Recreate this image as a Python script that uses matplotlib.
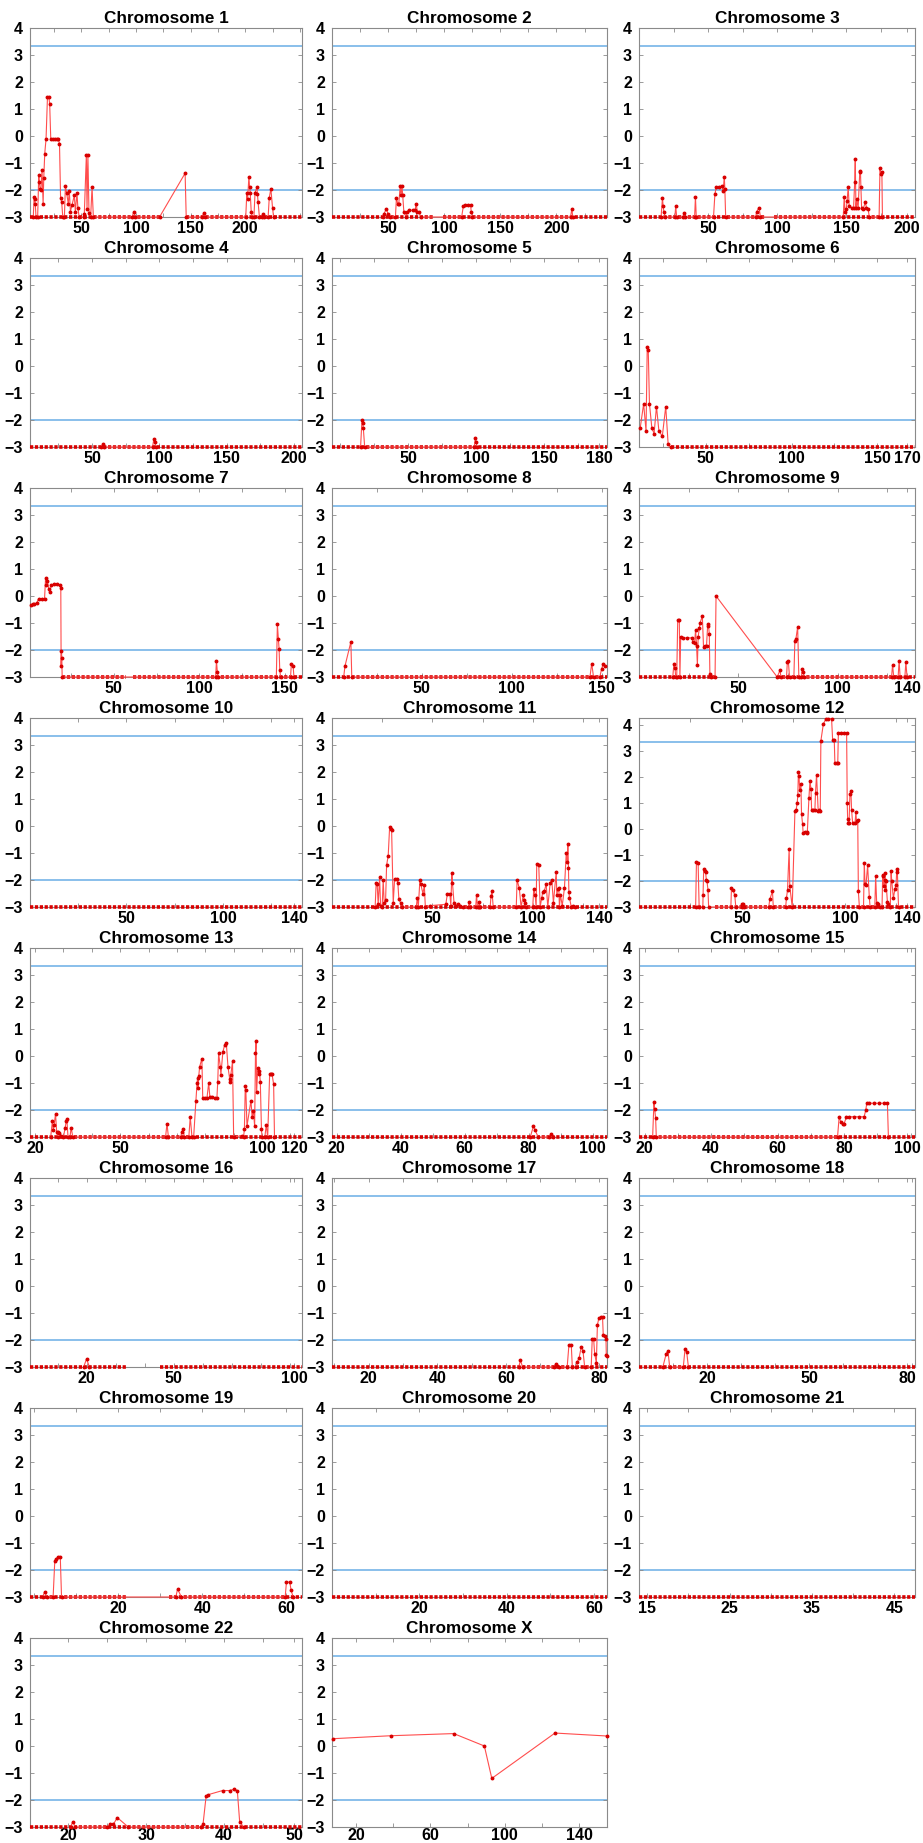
import matplotlib.pyplot as plt

plt.rcParams['font.family'] = ['Liberation Sans', 'DejaVu Sans']
plt.rcParams['font.weight'] = 'bold'

## data: (position, score) points and the -3 floor stretches
names = ['1', '2', '3', '4', '5', '6', '7', '8', '9', '10', '11', '12',
         '13', '14', '15', '16', '17', '18', '19', '20', '21', '22', 'X']

floor_level = -3
thresholds = [3.35, -2.0]

chr1_pts = [(6, -3), (6.8, -2.25), (7.2, -2.35), (7.8, -2.5), (8.5, -3), (10, -3), (11, -1.45), (11.5, -1.7),
            (12.2, -1.95), (13, -2.0), (14, -1.25), (15, -2.5), (15.6, -1.55), (16.5, -0.65), (17.7, -0.1),
            (19, 1.45), (20.2, 1.45), (21, 1.2), (22, -0.1), (24, -0.1), (26, -0.1), (28, -0.1), (29, -0.1),
            (30, -0.3), (31, -2.3), (32, -2.45), (33, -3), (34.5, -3), (35.4, -1.85), (36.5, -2.1), (38, -2.5),
            (39, -2.05), (40, -2.8), (41.5, -2.55), (43.6, -2.2), (44.5, -2.8), (46, -2.1), (46.8, -2.65),
            (48, -3), (52, -3), (52.7, -2.9), (54.6, -0.7), (55.2, -2.7), (56, -0.7), (57, -2.85), (58.5, -3),
            (59.8, -1.9), (61, -3), (96.5, -3), (98, -2.8), (99.5, -3), (121.6, -3), (145, -1.38), (146, -3),
            (160.5, -3), (162, -2.85), (163.5, -3), (200.5, -3), (201.5, -2.1), (202.2, -2.35), (203.4, -1.5),
            (204, -1.9), (204.6, -2.1), (205.5, -2.8), (206.5, -3), (208, -3), (209, -2.1), (210.7, -1.9),
            (211.2, -2.15), (211.8, -2.45), (213, -3), (215, -3), (216, -2.9), (217, -3), (221, -3),
            (222, -2.3), (223.5, -1.95), (225, -2.65), (226, -3)]
chr1_floor = [(3, 121.6), (146, 252)]

chr2_pts = [(45, -3), (46, -2.9), (48.5, -2.7), (50, -2.9), (52, -3), (56.5, -3), (57.4, -2.3), (58.5, -2.5),
            (59.5, -2.5), (60.8, -1.85), (61.5, -2.2), (62.3, -1.85), (63, -2.2), (64, -2.8), (66, -3),
            (67, -2.8), (69, -2.75), (72, -2.75), (74, -2.75), (75, -2.5), (76, -2.8), (77.5, -2.8), (79, -3),
            (115.5, -3), (117, -2.6), (118.5, -2.55), (121, -2.55), (123.5, -2.55), (124, -2.8), (125, -3),
            (212.5, -3), (213.7, -2.7), (214.5, -3)]
chr2_floor = [(0, 90), (99, 245)]

chr3_pts = [(16, -3), (17, -2.3), (17.5, -2.6), (18, -2.8), (19, -3), (26, -3), (26.6, -2.6), (27.3, -3),
            (32, -3), (32.4, -2.85), (33, -3), (40.3, -3), (40.9, -2.25), (41.5, -3), (54, -3), (55, -2.15),
            (56, -1.9), (58, -1.9), (60, -1.85), (61, -2.05), (61.8, -1.5), (62.2, -1.95), (62.8, -3),
            (84.5, -3), (85.3, -2.8), (87, -2.65), (88, -3), (148, -3), (148.7, -2.25), (149.3, -2.8),
            (150.2, -2.7), (150.8, -2.4), (151.6, -1.9), (152.3, -2.6), (154, -2.65), (155.5, -2.65),
            (156.3, -1.7), (156.7, -0.85), (157.2, -2.65), (157.7, -2.35), (158.8, -2.65), (160, -1.3),
            (160.5, -1.35), (160.8, -1.9), (161.3, -2.65), (162.5, -2.7), (164, -2.45), (164.8, -2.65),
            (166, -2.7), (166.9, -3), (174, -3), (174.6, -1.2), (175.3, -1.4), (176, -1.35), (176.4, -3)]
chr3_floor = [(0, 91), (98, 200)]

chr4_pts = [(57, -3), (58, -2.9), (59, -3), (95, -3), (96, -2.7), (96.5, -2.8), (97.5, -3)]
chr4_floor = [(4, 206)]

chr5_pts = [(15, -3), (16, -2.0), (16.5, -2.1), (17, -2.3), (18, -3), (98.5, -3), (99.3, -2.65), (99.8, -2.8),
            (100.5, -3)]
chr5_floor = [(-6, 196)]

chr6_pts = [(11.7, -2.3), (13.7, -1.4), (15.1, -2.4), (15.8, 0.7), (16.4, 0.6), (17.1, -1.4), (18.5, -2.3),
            (19.8, -2.5), (21.2, -1.5), (22.6, -2.4), (24.6, -2.6), (26.6, -1.5), (28, -2.9), (29.4, -3)]
chr6_floor = [(29.4, 172)]

chr7_pts = [(1.5, -0.35), (2.5, -0.3), (3.5, -0.3), (5, -0.25), (6, -0.1), (8, -0.1), (9.5, -0.1), (10.1, 0.65),
            (10.6, 0.4), (11.2, 0.55), (12, 0.25), (12.5, 0.15), (13.5, 0.4), (15, 0.45), (17, 0.45),
            (18.5, 0.4), (19.0, 0.3), (19.2, -2.6), (19.4, -2.05), (19.6, -2.3), (19.8, -3), (109.5, -3),
            (110, -2.4), (110.5, -2.8), (111, -3), (145, -3), (145.6, -1.05), (146.2, -1.6), (146.6, -1.95),
            (147, -2.75), (147.5, -3), (153.3, -3), (153.8, -2.5), (154.8, -2.6), (155.3, -3)]
chr7_floor = [(19.8, 57), (61, 160)]

chr8_pts = [(6.5, -3), (7.2, -2.6), (10.5, -1.7), (11, -3), (143.5, -3), (144.5, -2.5), (145.5, -3),
            (149, -3), (150, -2.7), (151, -2.5), (152, -2.6)]
chr8_floor = [(0, 153)]

chr9_pts = [(17, -3), (17.6, -2.5), (18.1, -2.65), (18.5, -3), (19, -3), (19.5, -0.9), (20.3, -0.9), (20.6, -3),
            (21, -1.5), (22, -1.55), (24, -1.55), (26.5, -1.55), (27.3, -1.7), (28, -1.75), (28.5, -1.25),
            (29, -1.85), (29.4, -2.55), (29.8, -1.5), (30.4, -1.2), (30.7, -1.0), (31.9, -0.75), (32.5, -1.9),
            (33.2, -1.85), (34, -1.85), (34.6, -1.05), (35, -1.1), (35.4, -1.4), (35.7, -2.9), (36.2, -3),
            (38.3, -3), (38.8, 0.0), (69.6, -3), (71, -2.75), (71.5, -3), (74.3, -3), (74.7, -2.45),
            (75.2, -2.4), (75.8, -3), (78, -3), (78.5, -1.65), (79, -1.6), (79.9, -1.15), (80.5, -3),
            (81.8, -3), (82.2, -2.7), (82.7, -2.8), (83.2, -3), (127.2, -3), (127.7, -2.55), (128.3, -3),
            (130.5, -3), (131, -2.4), (131.5, -3), (133.9, -3), (134.4, -2.45), (135, -3)]
chr9_floor = [(0, 38.8), (69.6, 139)]

chr10_pts = []
chr10_floor = [(0, 141)]

chr11_pts = [(21.5, -3), (22, -2.1), (22.5, -2.15), (23, -2.9), (23.7, -1.9), (24.2, -2.95), (25, -3),
             (25.5, -2.0), (26, -2.85), (26.7, -2.75), (27.2, -1.45), (28, -1.1), (28.7, -0.05), (29.2, -0.1),
             (29.7, -0.15), (30.5, -2.85), (31.2, -1.95), (32.2, -1.95), (32.8, -2.1), (33.3, -2.7),
             (34.2, -2.85), (35, -3), (42, -3), (42.5, -2.65), (43, -3), (43.8, -2.0), (44.2, -2.15),
             (45.3, -2.5), (46, -2.2), (46.5, -3), (48.8, -2.95), (56.7, -2.9), (57.5, -2.5), (58.7, -2.5),
             (59.2, -2.95), (59.7, -1.75), (60, -2.1), (60.8, -2.85), (61.7, -2.95), (62.8, -2.9), (64, -2.95),
             (65.3, -3), (68, -3), (68.3, -2.8), (68.8, -3), (71.6, -3), (72, -2.55), (72.5, -3), (73, -3),
             (73.3, -2.8), (73.8, -3), (78.8, -3), (79.2, -2.6), (79.7, -2.4), (80.3, -3), (91.8, -3),
             (92.2, -2.0), (93.3, -2.3), (94.2, -3), (95.3, -2.55), (95.8, -2.75), (96.2, -2.85), (96.7, -3),
             (100, -3), (100.5, -2.35), (101.2, -2.55), (101.7, -3), (102, -1.4), (103, -1.45), (103.7, -3),
             (104.5, -2.65), (105, -2.45), (105.8, -2.4), (106.7, -2.15), (107.5, -3), (108.7, -2.1),
             (109.5, -2.0), (110.3, -2.85), (111.7, -1.7), (112, -2.55), (112.5, -2.35), (113, -2.3),
             (113.3, -3), (113.8, -2.55), (114.7, -2.95), (115.8, -2.3), (116.7, -1.0), (117.2, -1.35),
             (117.5, -0.65), (117.8, -1.55), (118, -2.45), (118.3, -2.65), (119.2, -3), (120.3, -2.95),
             (121, -3)]
chr11_floor = [(0, 137)]

chr12_pts = [(27.5, -3), (27.9, -1.25), (28.7, -1.3), (29.2, -3), (31, -3), (31.1, -2.55), (31.4, -1.55),
             (32, -1.6), (32.3, -1.65), (32.7, -1.95), (33, -2.0), (33.5, -2.35), (33.8, -3), (44.6, -3),
             (44.9, -2.25), (45.7, -2.35), (46.5, -2.55), (47, -3), (49.8, -3), (50.2, -2.9), (50.5, -2.9),
             (50.9, -3), (63, -3), (63.5, -2.7), (64.8, -2.4), (65.2, -3), (71.2, -3), (71.6, -2.65),
             (72.1, -2.35), (72.9, -0.75), (73.2, -2.2), (74.4, -3), (75.7, 0.7), (76.3, 0.75), (76.8, 1.0),
             (77.1, 1.3), (77.4, 2.2), (77.7, 2.05), (78, 1.5), (78.6, 1.75), (78.9, 0.6), (79.4, 0.2),
             (79.7, -0.15), (80.5, -0.1), (81.4, -0.1), (81.7, -0.15), (82.5, 1.2), (83, 1.85), (83.5, 1.55),
             (83.8, 0.75), (84.6, 0.75), (85.4, 0.75), (85.7, 1.4), (86.2, 2.1), (87, 0.7), (87.5, 0.75),
             (88, 0.7), (88.3, 3.4), (89.5, 4.05), (90.8, 4.25), (92, 4.25), (93.5, 4.25), (94, 3.45),
             (94.8, 3.45), (95.1, 2.55), (96, 2.55), (96.5, 2.55), (96.8, 3.7), (98, 3.7), (99.5, 3.7),
             (100.8, 3.7), (101.1, 1.0), (101.3, 0.4), (101.6, 0.25), (102, 0.25), (102.4, 1.35),
             (102.9, 1.45), (103.2, 0.75), (103.7, 0.25), (104.9, 0.25), (105.3, 0.65), (105.6, 0.3),
             (106.2, 0.35), (106.5, -2.4), (107, -3), (109, -3), (109.4, -1.3), (109.7, -2.1), (110.2, -2.15),
             (111, -1.4), (111.8, -2.6), (112.2, -3), (114.5, -3), (114.9, -1.8), (115.4, -2.85),
             (116.2, -2.9), (117, -3), (118, -3), (118.3, -1.8), (118.6, -1.75), (119, -2.2), (119.2, -1.95),
             (119.4, -1.7), (119.6, -2.35), (119.9, -2.0), (120.6, -2.8), (121.1, -2.9), (122, -3),
             (122.4, -1.6), (122.7, -2.0), (123.5, -2.65), (124.3, -2.3), (124.8, -2.15), (125.1, -1.65),
             (125.4, -1.55), (126, -3)]
chr12_floor = [(0, 31), (37, 134)]

chr13_pts = [(25.5, -3), (26.1, -2.4), (26.4, -2.75), (26.7, -2.55), (27.2, -2.15), (27.6, -2.8), (27.9, -3),
             (28.2, -2.8), (28.6, -2.85), (29.2, -2.95), (30, -3), (30.6, -2.65), (31, -2.4), (31.2, -2.35),
             (31.6, -3), (32.3, -3), (32.7, -2.65), (33.3, -3), (66, -3), (66.5, -2.5), (67, -3), (71.3, -3),
             (71.8, -2.8), (72.2, -2.7), (72.6, -3), (74.2, -3), (74.7, -2.25), (75.3, -3), (75.9, -3),
             (76.7, -1.65), (77.1, -1.0), (77.3, -0.8), (77.5, -1.2), (77.7, -0.75), (78, -0.4), (78.8, -0.1),
             (79.1, -1.55), (80, -1.55), (80.6, -1.55), (81.2, -1.0), (81.6, -1.5), (82.5, -1.5),
             (83.3, -1.55), (84.1, -1.55), (84.4, -0.95), (84.7, 0.1), (85.3, -0.4), (85.5, -0.7),
             (86.2, 0.15), (86.8, 0.4), (87.4, 0.5), (88, -0.4), (88.6, -0.85), (88.8, -0.95), (89, -0.7),
             (89.6, -0.2), (90, -3), (92.9, -2.95), (93.5, -3), (93.8, -2.7), (94.1, -1.1), (94.3, -1.25),
             (94.7, -2.6), (96.1, -1.65), (96.5, -2.25), (97, -2.05), (97.4, -2.6), (97.7, 0.1), (97.9, 0.55),
             (98.1, -1.35), (98.5, -0.45), (98.8, -0.65), (99.1, -0.55), (99.4, -0.95), (99.8, -2.7),
             (100, -3), (101, -3), (101.5, -2.55), (102, -3), (102.7, -0.65), (103.2, -0.65), (103.5, -0.65),
             (104.1, -1.05), (104.4, -3)]
chr13_floor = [(18.2, 114.1)]

chr14_pts = [(80.5, -3), (81.5, -2.6), (82, -2.75), (83, -3), (86.5, -3), (87, -2.9), (87.5, -3)]
chr14_floor = [(18.5, 104.5)]

chr15_pts = [(22.4, -3), (22.8, -1.7), (23, -1.95), (23.3, -2.3), (23.5, -3), (78, -3), (78.5, -2.25),
             (79, -2.45), (79.5, -2.5), (80, -2.5), (80.7, -2.25), (81.5, -2.25), (83, -2.25), (84.5, -2.25),
             (86, -2.25), (86.5, -2.0), (86.8, -1.75), (87.5, -1.75), (89, -1.75), (90.5, -1.75), (92, -1.75),
             (93, -1.75), (93.3, -3)]
chr15_floor = [(18.3, 101.3)]

chr16_pts = [(19, -3), (20, -2.7), (21, -3)]
chr16_floor = [(0.5, 33.5), (45.5, 94.3)]

chr17_pts = [(63.7, -3), (64.2, -2.75), (64.8, -3), (73.9, -3), (74.4, -2.9), (74.9, -2.95), (75.3, -3),
             (77.8, -3), (78.3, -2.2), (79, -2.2), (79.3, -3), (80.5, -3), (80.8, -2.8), (81.3, -2.65),
             (81.9, -2.25), (82.4, -2.4), (82.9, -3), (84.8, -3), (85.1, -1.95), (85.5, -1.95), (85.8, -2.5),
             (86.3, -2.85), (86.6, -1.45), (87, -1.2), (87.6, -1.15), (88.1, -1.15), (88.3, -1.8),
             (88.8, -1.85), (89.1, -1.95), (89.2, -2.55), (89.4, -2.6)]
chr17_floor = [(9.3, 89.4)]

chr18_pts = [(7, -3), (8, -2.5), (8.5, -2.4), (9, -3), (13, -3), (13.5, -2.35), (14, -2.45), (14.5, -3)]
chr18_floor = [(0, 81)]

chr19_pts = [(2, -3), (2.5, -2.8), (3, -3), (4.5, -3), (4.9, -1.65), (5.2, -1.6), (5.7, -1.5), (6.2, -1.5),
             (6.5, -3), (33.7, -3), (34.1, -2.7), (35, -3), (59.7, -3), (60, -2.45), (60.8, -2.45),
             (61.1, -2.75), (61.6, -3)]
chr19_floor = [(-1, 22), (32, 63.7)]

chr20_pts = []
chr20_floor = [(0, 63)]

chr21_pts = []
chr21_floor = [(14, 47.5)]

chr22_pts = [(20.3, -3), (20.6, -2.8), (20.9, -3), (25, -3), (25.4, -2.9), (25.8, -2.9), (26.3, -2.65),
             (27.7, -3), (37, -3), (37.3, -2.9), (37.7, -1.85), (38, -1.8), (39.8, -1.65), (40.7, -1.65),
             (41.3, -1.6), (41.7, -1.65), (42, -2.8), (42.5, -3)]
chr22_floor = [(15.1, 50)]

chrX_pts = [(7.5, 0.27), (38.5, 0.38), (72.5, 0.46), (89, 0.0), (93, -1.2), (127, 0.48), (155, 0.37)]
chrX_floor = []

# tick label texts per panel; None in tick_pos marks a label pinned near the right edge
tick_labels = {
    '1': ['50', '100', '150', '200'], '2': ['50', '100', '150', '200'], '3': ['50', '100', '150', '200'],
    '4': ['50', '100', '150', '200'], '5': ['50', '100', '150', '180'], '6': ['50', '100', '150', '170'],
    '7': ['50', '100', '150'], '8': ['50', '100', '150'], '9': ['50', '100', '140'],
    '10': ['50', '100', '140'], '11': ['50', '100', '140'], '12': ['50', '100', '140'],
    '13': ['20', '50', '100', '120'], '14': ['20', '40', '60', '80', '100'],
    '15': ['20', '40', '60', '80', '100'], '16': ['20', '50', '100'], '17': ['20', '40', '60', '80'],
    '18': ['20', '50', '80'], '19': ['20', '40', '60'], '20': ['20', '40', '60'],
    '21': ['15', '25', '35', '45'], '22': ['20', '30', '40', '50'], 'X': ['20', '60', '100', '140'],
}

data = {
    '1': (chr1_pts, chr1_floor), '2': (chr2_pts, chr2_floor), '3': (chr3_pts, chr3_floor),
    '4': (chr4_pts, chr4_floor), '5': (chr5_pts, chr5_floor), '6': (chr6_pts, chr6_floor),
    '7': (chr7_pts, chr7_floor), '8': (chr8_pts, chr8_floor), '9': (chr9_pts, chr9_floor),
    '10': (chr10_pts, chr10_floor), '11': (chr11_pts, chr11_floor), '12': (chr12_pts, chr12_floor),
    '13': (chr13_pts, chr13_floor), '14': (chr14_pts, chr14_floor), '15': (chr15_pts, chr15_floor),
    '16': (chr16_pts, chr16_floor), '17': (chr17_pts, chr17_floor), '18': (chr18_pts, chr18_floor),
    '19': (chr19_pts, chr19_floor), '20': (chr20_pts, chr20_floor), '21': (chr21_pts, chr21_floor),
    '22': (chr22_pts, chr22_floor), 'X': (chrX_pts, chrX_floor),
}

## axis layout (x range, tick positions, minor tick step)
xlims = {'1': (3, 252), '2': (0, 245), '3': (0, 200), '4': (4, 206), '5': (-6, 196), '6': (11, 172),
         '7': (1, 160), '8': (0, 153), '9': (0, 139), '10': (0, 141), '11': (0, 137), '12': (0, 134),
         '13': (18.2, 114.1), '14': (18.5, 104.5), '15': (18.3, 101.3), '16': (0.5, 94.3), '17': (9.3, 89.4),
         '18': (0, 81), '19': (-1, 63.7), '20': (0, 63), '21': (14, 47.5), '22': (15.1, 50), 'X': (7, 155)}
tick_pos = {'1': [50, 100, 150, 200], '2': [50, 100, 150, 200], '3': [50, 100, 150, None],
            '4': [50, 100, 150, 200], '5': [50, 100, 150, None], '6': [50, 100, 150, None],
            '7': [50, 100, 150], '8': [50, 100, 150], '9': [50, 100, None], '10': [50, 100, None],
            '11': [50, 100, None], '12': [50, 100, None], '13': [20, 50, 100, None],
            '14': [20, 40, 60, 80, 100], '15': [20, 40, 60, 80, None], '16': [20, 50, None],
            '17': [20, 40, 60, None], '18': [20, 50, None], '19': [20, 40, 60], '20': [20, 40, 60],
            '21': [15, 25, 35, 45], '22': [20, 30, 40, None], 'X': [20, 60, 100, 140]}
minor_step = {'1': 25, '2': 25, '3': 25, '4': 25, '5': 25, '6': 25, '7': 25, '8': 25, '9': 25, '10': 25,
              '11': 25, '12': 25, '13': 10, '14': 10, '15': 10, '16': 10, '17': 10, '18': 10, '19': 10,
              '20': 10, '21': 5, '22': 5, 'X': 20}
ytops = {'12': 4.28}

line_red = '#ff4d4d'
dot_red = '#d80000'
blue = '#6aaee6'
spine_gray = '#8a8a8a'

W, H = 923, 1843
col_left = [30, 332, 639]
col_w = [272, 275, 276]
row_top0, row_step, ax_h = 28, 230.0, 189

fig = plt.figure(figsize=(W / 100, H / 100), dpi=100)

for k, name in enumerate(names):
    r, c = divmod(k, 3)
    top = row_top0 + r * row_step
    ax = fig.add_axes([col_left[c] / W, 1 - (top + ax_h) / H, col_w[c] / W, ax_h / H])
    pts, floor = data[name]

    for t in thresholds:
        ax.axhline(t, color=blue, lw=1.1, zorder=1)

    # dense run of points on the floor
    for a, b in floor:
        ax.plot([a, b], [floor_level, floor_level], color=dot_red, lw=2.6,
                ls=(0, (0.9, 0.45)), clip_on=False, zorder=4)

    if pts:
        xs = [p[0] for p in pts]
        ys = [p[1] for p in pts]
        ax.plot(xs, ys, '-', color=line_red, lw=0.8, clip_on=False, zorder=5)
        ax.plot(xs, ys, '.', color=dot_red, ms=3.6, clip_on=False, zorder=6)

    lo, hi = xlims[name]
    ax.set_xlim(lo, hi)
    ax.set_ylim(-3, ytops.get(name, 4))
    ax.set_yticks(range(-3, 5))
    # edge labels sit a few pixels inside the right border
    pos = [p if p is not None else hi - 0.028 * (hi - lo) for p in tick_pos[name]]
    ax.set_xticks(pos, tick_labels[name])
    step = minor_step[name]
    ax.set_xticks([v for v in range(0, int(hi) + 1, step) if lo < v < hi], minor=True)

    ax.tick_params(which='both', direction='in', length=3, width=0.6, color=spine_gray,
                   top=True, right=True, labelsize=11.5)
    ax.tick_params(axis='x', pad=3.0 if r < 7 else 1.0)
    ax.tick_params(axis='y', pad=5)
    for s in ax.spines.values():
        s.set_color(spine_gray)
        s.set_linewidth(0.8)

    ax.set_title('Chromosome ' + name, fontsize=12.3, fontweight='bold', pad=3.5)

plt.savefig('out.png', dpi=100)
